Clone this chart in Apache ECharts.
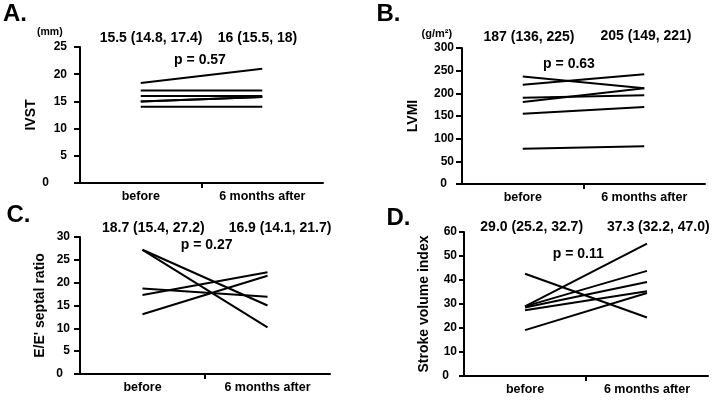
<!DOCTYPE html>
<html>
<head>
<meta charset="utf-8">
<script src="https://cdn.jsdelivr.net/npm/echarts@6/dist/echarts.min.js"></script>
<style>html,body{margin:0;padding:0;background:#fff}#c{width:713px;height:400px}</style>
</head>
<body>
<div id="c"></div>
<script>
var categories = ['before', '6 months after'];

// Panel A: IVST (mm)
var ivstBefore = [18.4, 17.0, 16.0, 15.0, 15.0, 14.0];
var ivstAfter  = [21.0, 17.0, 16.0, 15.8, 15.8, 14.0];
// Panel B: LVMI (g/m2)
var lvmiBefore = [237, 219, 190, 181, 155, 78];
var lvmiAfter  = [211, 242, 196, 211, 170, 83];
// Panel C: E/E' septal ratio
var eeBefore = [27.2, 27.2, 18.7, 17.3, 13.1];
var eeAfter  = [15.0, 10.2, 16.9, 22.3, 21.5];
// Panel D: Stroke volume index
var sviBefore = [42.6, 29.0, 29.0, 28.5, 27.4, 19.1];
var sviAfter  = [24.4, 55.2, 43.8, 39.2, 35.3, 34.6];

var panelLetters = ['A.', 'B.', 'C.', 'D.'];
var axisNames = ['IVST', 'LVMI', "E/E' septal ratio", 'Stroke volume index'];
var units = ['(mm)', '(g/m\u00b2)'];
var headersBefore = ['15.5 (14.8, 17.4)', '187 (136, 225)', '18.7 (15.4, 27.2)', '29.0 (25.2, 32.7)'];
var headersAfter  = ['16 (15.5, 18)', '205 (149, 221)', '16.9 (14.1, 21.7)', '37.3 (32.2, 47.0)'];
var pValues = ['p = 0.57', 'p = 0.63', 'p = 0.27', 'p = 0.11'];
var yMax = [25, 300, 30, 60];
var yInterval = [5, 50, 5, 10];

var FONT = '"Liberation Sans", Arial, Helvetica, sans-serif';
var panels = [
  {before: ivstBefore, after: ivstAfter},
  {before: lvmiBefore, after: lvmiAfter},
  {before: eeBefore, after: eeAfter},
  {before: sviBefore, after: sviAfter}
];

var grids = [
  {left: 80, top: 47, width: 243, height: 136},
  {left: 462, top: 48, width: 243, height: 136},
  {left: 80, top: 237, width: 250, height: 137},
  {left: 464, top: 232, width: 244, height: 144}
];
var tickLen = [6, 6, 6, 5];
var labelMargin = [13, 8, 10, 7];
var zeroPad = [18, 7, 7, 8];
var nameGaps = [39, 42, 33, 33];

var xAxes = [], yAxes = [], series = [];
grids.forEach(function (g, p) {
  xAxes.push({
    type: 'category', gridIndex: p, position: 'bottom', data: categories, boundaryGap: true,
    axisLine: {show: false}, axisTick: {show: false}, splitLine: {show: false},
    axisLabel: {color: '#000', fontFamily: FONT, fontWeight: 'bold', fontSize: 12.5, margin: 7, interval: 0}
  });
  xAxes.push({
    type: 'value', gridIndex: p, position: 'bottom', min: 0, max: 2, interval: 1,
    axisLine: {show: true, onZero: false, lineStyle: {color: '#000', width: 2}},
    axisTick: {show: true, length: 5, customValues: [1], lineStyle: {color: '#000', width: 2}},
    axisLabel: {show: false}, splitLine: {show: false}
  });
  yAxes.push({
    type: 'value', gridIndex: p, min: 0, max: yMax[p], interval: yInterval[p],
    name: axisNames[p], nameLocation: 'middle', nameGap: nameGaps[p],
    nameTextStyle: {color: '#000', fontFamily: FONT, fontWeight: 'bold', fontSize: 14},
    axisLine: {show: true, onZero: false, lineStyle: {color: '#000', width: 2}},
    axisTick: {show: true, length: tickLen[p], lineStyle: {color: '#000', width: 2}},
    splitLine: {show: false},
    axisLabel: {
      color: '#000', fontFamily: FONT, fontWeight: 'bold', fontSize: 12, margin: labelMargin[p],
      formatter: function (v) { return v === 0 ? '{z|0}' : String(v); },
      rich: {z: {color: '#000', fontFamily: FONT, fontWeight: 'bold', fontSize: 12, padding: [0, zeroPad[p], 0, 0]}}
    }
  });
  var d = panels[p];
  for (var i = 0; i < d.before.length; i++) {
    series.push({
      type: 'line', xAxisIndex: 2 * p, yAxisIndex: p,
      data: [d.before[i], d.after[i]],
      symbol: 'none', silent: true,
      lineStyle: {color: '#000', width: 2}
    });
  }
});

function txt(s, x, y, size, align) {
  return {type: 'text', x: x, y: y, silent: true,
    style: {text: s, fill: '#000', font: 'bold ' + size + 'px ' + FONT,
      textAlign: align || 'center', textVerticalAlign: 'middle'}};
}

var graphics = [
  txt(panelLetters[0], 3, 14, 24, 'left'),
  txt(units[0], 37, 32, 10.5, 'left'),
  txt(headersBefore[0], 151, 38.5, 14),
  txt(headersAfter[0], 257.5, 38.5, 14),
  txt(pValues[0], 200, 60, 14),

  txt(panelLetters[1], 376.5, 14.7, 24, 'left'),
  txt(units[1], 421.5, 34, 11, 'left'),
  txt(headersBefore[1], 529, 37.5, 14),
  txt(headersAfter[1], 646, 36, 14),
  txt(pValues[1], 569, 63.7, 14),

  txt(panelLetters[2], 6.5, 215.3, 24, 'left'),
  txt(headersBefore[2], 153.3, 228.3, 14),
  txt(headersAfter[2], 280, 228.3, 14),
  txt(pValues[2], 206.7, 245.5, 14),

  txt(panelLetters[3], 386.5, 218.3, 24, 'left'),
  txt(headersBefore[3], 531.7, 227, 14),
  txt(headersAfter[3], 658.3, 227, 14),
  txt(pValues[3], 578.3, 254, 14)
];

var chart = echarts.init(document.getElementById('c'), null, {renderer: 'canvas'});
chart.setOption({
  animation: false,
  backgroundColor: '#fff',
  grid: grids,
  xAxis: xAxes,
  yAxis: yAxes,
  series: series,
  graphic: graphics
});
</script>
</body>
</html>
